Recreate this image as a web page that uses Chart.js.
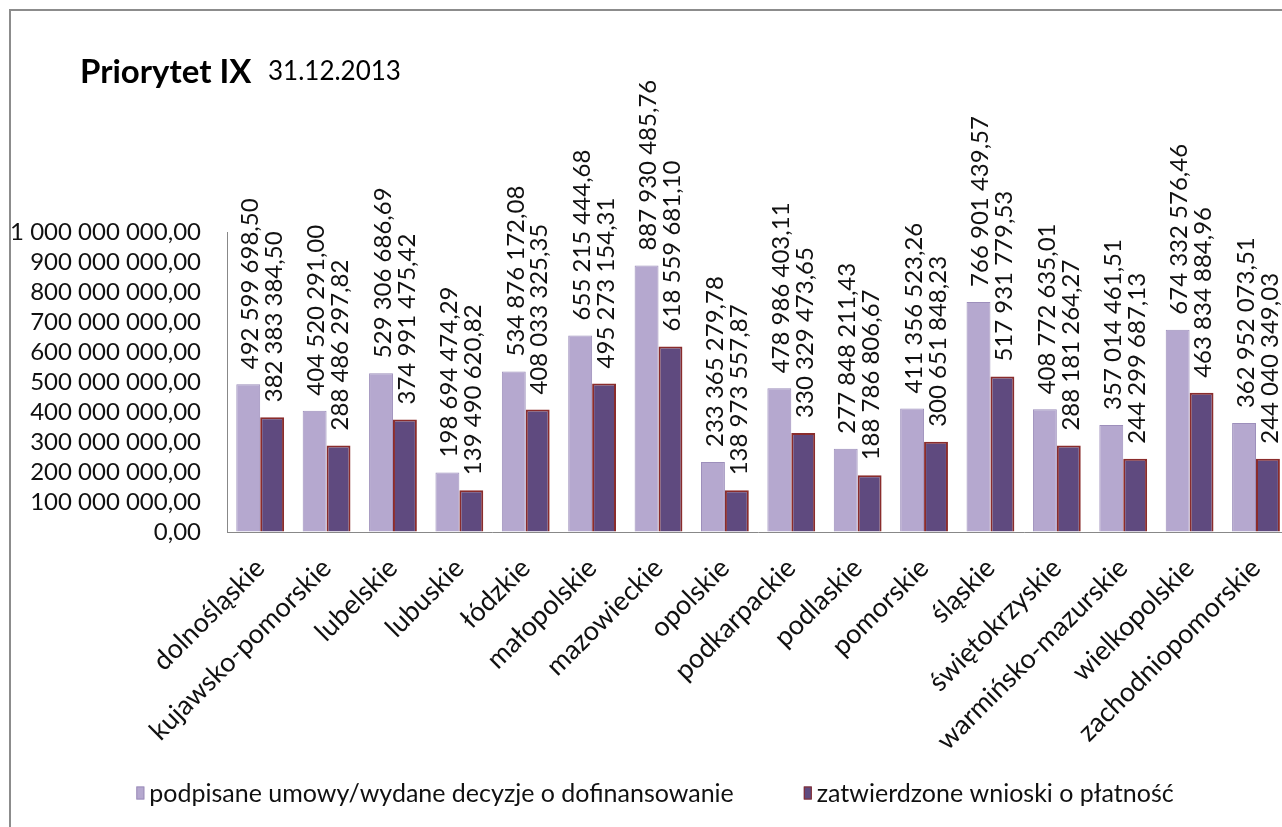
<!DOCTYPE html>
<html>
<head>
<meta charset="utf-8">
<script src="https://cdn.jsdelivr.net/npm/chart.js@4/dist/chart.umd.min.js"></script>
<style>
  body { margin: 0; background: #fff; overflow: hidden; }
  #wrap { position: absolute; left: 9px; top: 9px; width: 1288px; height: 850px; border: 2px solid #8c8c8c; background: #fff; }
  canvas { display: block; }
</style>
</head>
<body>
<div id="wrap"><canvas id="chart" width="1288" height="805"></canvas></div>
<script>
// dane wykresu
const regions = ['dolnośląskie', 'kujawsko-pomorskie', 'lubelskie', 'lubuskie', 'łódzkie', 'małopolskie',
  'mazowieckie', 'opolskie', 'podkarpackie', 'podlaskie', 'pomorskie', 'śląskie', 'świętokrzyskie',
  'warmińsko-mazurskie', 'wielkopolskie', 'zachodniopomorskie'];
const signedValues = [492599698.50, 404520291.00, 529306686.69, 198694474.29, 534876172.08, 655215444.68,
  887930485.76, 233365279.78, 478986403.11, 277848211.43, 411356523.26, 766901439.57, 408772635.01,
  357014461.51, 674332576.46, 362952073.51];
const paidValues = [382383384.50, 288486297.82, 374991475.42, 139490620.82, 408033325.35, 495273154.31,
  618559681.10, 138973557.87, 330329473.65, 188786806.67, 300651848.23, 517931779.53, 288181264.27,
  244299687.13, 463834884.96, 244040349.03];
const seriesNames = ['podpisane umowy/wydane decyzje o dofinansowanie', 'zatwierdzone wnioski o płatność'];
const yMax = 1000000000;
const yStep = 100000000;

const FONT = 'Lato, "Open Sans", sans-serif';

// 1234567.5 -> "1 234 567,50"
function fmt(v) {
  const parts = v.toFixed(2).split('.');
  return parts[0].replace(/\B(?=(\d{3})+(?!\d))/g, ' ') + ',' + parts[1];
}

// tytuł
const titlePlugin = {
  id: 'titleText',
  afterDraw(chart) {
    const ctx = chart.ctx;
    ctx.save();
    ctx.fillStyle = '#000';
    ctx.textBaseline = 'alphabetic';
    ctx.font = 'bold 33px ' + FONT;
    ctx.fillText('Priorytet IX', 69, 72);
    ctx.font = '26px ' + FONT;
    ctx.fillText('31.12.2013', 257, 69);
    ctx.restore();
  }
};

// etykiety wartości nad słupkami (pionowo)
const valueLabels = {
  id: 'valueLabels',
  afterDatasetsDraw(chart) {
    const ctx = chart.ctx;
    ctx.save();
    ctx.font = '24px ' + FONT;
    ctx.fillStyle = '#111';
    ctx.textAlign = 'left';
    ctx.textBaseline = 'middle';
    chart.data.datasets.forEach((ds, i) => {
      chart.getDatasetMeta(i).data.forEach((bar, j) => {
        ctx.save();
        ctx.translate(bar.x + 2, bar.y - 15);
        ctx.rotate(-Math.PI / 2);
        ctx.fillText(fmt(ds.data[j]), 0, 0);
        ctx.restore();
      });
    });
    ctx.restore();
  }
};

// legenda na dole (szeroki odstęp między pozycjami, jak w Excelu)
const bottomLegend = {
  id: 'bottomLegend',
  afterDraw(chart) {
    const ctx = chart.ctx;
    const boxW = 8, boxH = 13, textGap = 5, itemGap = 70;
    const y = chart.height - 23;
    ctx.save();
    ctx.font = '25px ' + FONT;
    ctx.textBaseline = 'middle';
    ctx.textAlign = 'left';
    const items = chart.data.datasets.map(ds => ({ ds, w: ctx.measureText(ds.label).width }));
    const total = items.reduce((s, it) => s + boxW + textGap + it.w, 0) + itemGap * (items.length - 1);
    let x = (chart.width - total) / 2;
    items.forEach(it => {
      ctx.fillStyle = it.ds.backgroundColor;
      ctx.fillRect(x, y - boxH / 2, boxW, boxH);
      ctx.strokeStyle = it.ds.borderColor;
      ctx.lineWidth = 1;
      ctx.strokeRect(x + 0.5, y - boxH / 2 + 0.5, boxW - 1, boxH - 1);
      ctx.fillStyle = '#111';
      ctx.fillText(it.ds.label, x + boxW + textGap, y + 1);
      x += boxW + textGap + it.w + itemGap;
    });
    ctx.restore();
  }
};

new Chart(document.getElementById('chart'), {
  type: 'bar',
  data: {
    labels: regions,
    datasets: [
      {
        label: seriesNames[0],
        data: signedValues,
        backgroundColor: '#b5a8cf',
        borderColor: '#9d8fbb',
        borderWidth: 1
      },
      {
        label: seriesNames[1],
        data: paidValues,
        backgroundColor: '#5f4a7f',
        borderColor: '#8a2c2c',
        borderWidth: 2
      }
    ]
  },
  options: {
    responsive: false,
    animation: false,
    categoryPercentage: 0.72,
    barPercentage: 1,
    layout: { padding: { top: 221, left: 0, right: 3, bottom: 44 } },
    plugins: {
      title: { display: false },
      tooltip: { enabled: false },
      legend: { display: false }
    },
    scales: {
      x: {
        grid: { drawOnChartArea: false, drawTicks: false },
        border: { color: '#888', width: 1 },
        ticks: {
          font: { family: FONT, size: 27 },
          color: '#111',
          minRotation: 45,
          maxRotation: 45,
          padding: 20,
          autoSkip: false
        },
        afterFit(scale) { scale.height = 240; }
      },
      y: {
        min: 0,
        max: yMax,
        grid: { drawOnChartArea: false, drawTicks: false },
        border: { color: '#888', width: 1 },
        ticks: {
          stepSize: yStep,
          autoSkip: false,
          font: { family: FONT, size: 24 },
          color: '#111',
          padding: 26,
          callback: v => fmt(v)
        },
        afterFit(scale) { scale.width = 216; }
      }
    }
  },
  plugins: [titlePlugin, valueLabels, bottomLegend]
});
</script>
</body>
</html>
